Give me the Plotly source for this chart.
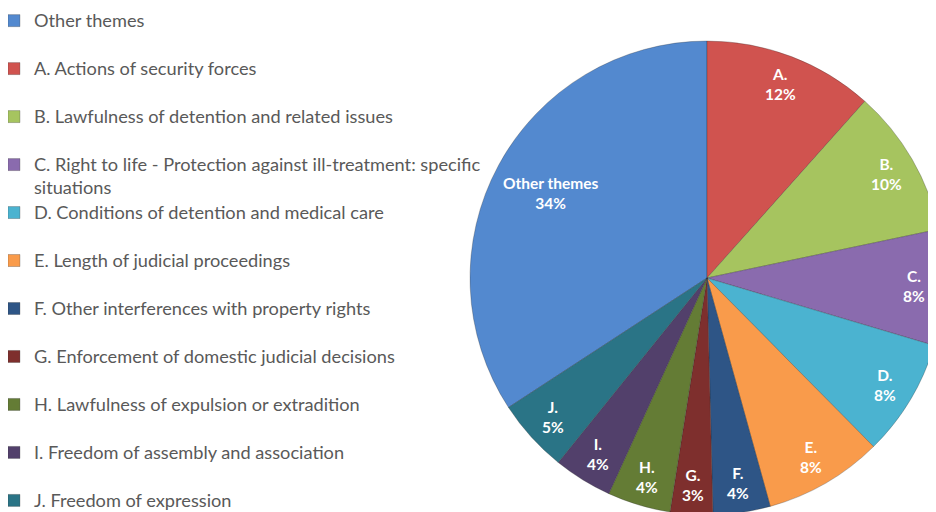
import math
import textwrap
import plotly.graph_objects as go

# ---- data ----
legend_names = [
    "Other themes",
    "A. Actions of security forces",
    "B. Lawfulness of detention and related issues",
    "C. Right to life - Protection against ill-treatment: specific situations",
    "D. Conditions of detention and medical care",
    "E. Length of judicial proceedings",
    "F. Other interferences with property rights",
    "G. Enforcement of domestic judicial decisions",
    "H. Lawfulness of expulsion or extradition",
    "I. Freedom of assembly and association",
    "J. Freedom of expression",
]
short_labels = ["Other themes", "A.", "B.", "C.", "D.", "E.", "F.", "G.", "H.", "I.", "J."]
shares = [34.2, 11.6, 10.1, 7.9, 8.0, 8.1, 3.9, 2.9, 4.3, 4.0, 5.0]
colors = ["#5389CF", "#D0534F", "#A6C45F", "#8A6BAE", "#4BB3D0", "#F99B4B",
          "#2E5586", "#7E2F2D", "#647C35", "#52406B", "#2A7486"]

W, H = 936, 512
DOM_X = [0.4936, 1.0]
DOM_Y = [0.0098, 0.9355]


def legend_text(name):
    lines = textwrap.wrap(name, 62)
    while len(lines) < 2:
        lines.append("&nbsp;")
    return "<br>".join(f'<span style="font-size:18.2px">{ln}</span>' for ln in lines)


display_labels = [legend_text(n) for n in legend_names]

total = sum(shares)
# "Other themes" is listed first in the legend but drawn last (ending at 12 o'clock)
rotation = 360.0 * (1 - shares[0] / total)

fig = go.Figure(
    go.Pie(
        labels=display_labels,
        values=shares,
        sort=False,
        direction="clockwise",
        rotation=rotation,
        marker=dict(colors=colors, line=dict(color="rgba(40,40,40,0.35)", width=0.8)),
        textinfo="none",
        hovertext=short_labels,
        hoverinfo="text+percent",
        domain=dict(x=DOM_X, y=DOM_Y),
    )
)

# data labels placed along each slice's mid-angle (computed from the values)
cx = (DOM_X[0] + DOM_X[1]) / 2 * W
cy_up = (DOM_Y[0] + DOM_Y[1]) / 2 * H
R = min((DOM_X[1] - DOM_X[0]) * W, (DOM_Y[1] - DOM_Y[0]) * H) / 2
start = rotation
for lab, v in zip(short_labels, shares):
    frac = v / total
    mid = math.radians(start + frac * 360 / 2)
    start += frac * 360
    rf = 0.75 if frac > 0.25 else 0.875
    px = cx + rf * R * math.sin(mid)
    py = cy_up + rf * R * math.cos(mid)
    fig.add_annotation(
        x=px / W, y=py / H, xref="paper", yref="paper",
        text=f"{lab}<br>{round(frac * 100):.0f}%",
        showarrow=False, xanchor="center", yanchor="middle",
        font=dict(family="Lato", size=15.5, color="white", weight="bold"),
    )

fig.update_layout(
    width=W,
    height=H,
    margin=dict(l=0, r=0, t=0, b=0, autoexpand=False),
    paper_bgcolor="white",
    plot_bgcolor="white",
    showlegend=True,
    legend=dict(
        x=-0.015,
        y=1.010,
        xanchor="left",
        yanchor="top",
        valign="top",
        maxheight=700,
        font=dict(family="Lato", size=17.3, color="#595959"),
        bgcolor="rgba(0,0,0,0)",
        itemclick=False,
        itemdoubleclick=False,
    ),
)

fig.write_html("out.html")
